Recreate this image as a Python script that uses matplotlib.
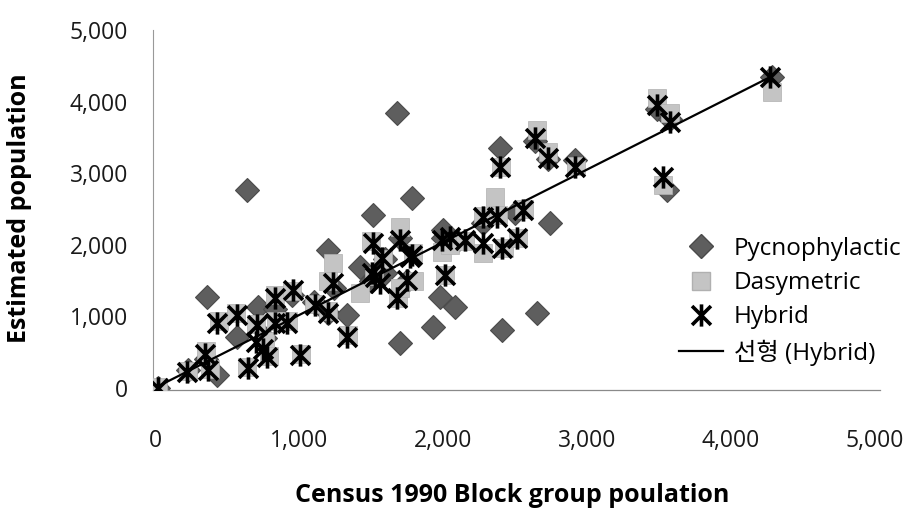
import numpy as np
import matplotlib.pyplot as plt
from matplotlib.path import Path
from matplotlib.lines import Line2D
from matplotlib.ticker import FuncFormatter

plt.rcParams['font.family'] = ['Open Sans', 'Noto Sans CJK KR', 'DejaVu Sans']

# --- data (census 1990 value, estimated value) ---
pyc_x = [20, 230, 350, 361, 431, 569, 639, 715, 760, 830, 950, 1100, 1200, 1201, 1240,
         1333, 1424, 1500, 1514, 1600, 1600, 1681, 1700, 1701, 1750, 1785, 1931, 1979,
         2000, 2000, 2083, 2100, 2280, 2396, 2410, 2500, 2639, 2653, 2729, 2743, 2917,
         3486, 3556, 3576, 4285]
pyc_y = [0, 250, 400, 1271, 182, 712, 2765, 1131, 700, 1100, 1300, 1200, 1050, 1927, 1400,
         1020, 1690, 1500, 2416, 1800, 1600, 3841, 2100, 628, 1500, 2654, 852, 1271,
         2100, 2200, 1131, 2050, 2300, 3352, 810, 2450, 3450, 1047, 3200, 2304, 3184,
         3900, 2765, 3760, 4350]

dasy_x = [20, 230, 350, 380, 440, 560, 640, 700, 760, 790, 830, 840, 920, 950, 1010,
          1100, 1200, 1200, 1236, 1340, 1424, 1500, 1520, 1580, 1690, 1700, 1701, 1790,
          1800, 1990, 2010, 2050, 2150, 2278, 2280, 2361, 2380, 2400, 2420, 2520, 2560,
          2653, 2729, 2920, 3486, 3528, 3576, 4285]
dasy_y = [10, 240, 520, 260, 930, 1050, 300, 900, 650, 450, 1300, 940, 930, 1350, 480,
          1180, 1080, 1500, 1746, 740, 1327, 2050, 1560, 1800, 1250, 1400, 2249, 1880,
          1500, 1900, 1580, 2000, 2050, 1885, 2400, 2668, 2420, 3080, 1950, 2100, 2500,
          3603, 3296, 3100, 4050, 2835, 3841, 4134]

hyb_x = [20, 222, 347, 368, 430, 569, 646, 700, 708, 750, 778, 833, 833, 917, 958, 1007,
         1111, 1201, 1236, 1333, 1507, 1514, 1528, 1563, 1576, 1681, 1701, 1750, 1771,
         1785, 1993, 2014, 2049, 2153, 2278, 2278, 2375, 2396, 2410, 2514, 2556, 2639,
         2729, 2917, 3486, 3528, 3576, 4271]
hyb_y = [0, 223, 475, 251, 908, 1020, 279, 640, 880, 550, 433, 1257, 908, 908, 1369, 461,
         1159, 1047, 1466, 712, 1606, 2025, 1550, 1466, 1816, 1257, 2067, 1508, 1830,
         1858, 2067, 1578, 2109, 2067, 2388, 2025, 2388, 3087, 1955, 2095, 2486, 3492,
         3212, 3087, 3953, 2947, 3715, 4344]

x_ticks = [0, 1000, 2000, 3000, 4000, 5000]
y_ticks = [0, 1000, 2000, 3000, 4000, 5000]

# linear trend of the hybrid series
slope, icpt = np.polyfit(hyb_x, hyb_y, 1)
trend_x = np.array([min(hyb_x), max(hyb_x)])
trend_y = slope * trend_x + icpt

# asterisk marker: vertical bar plus an X
star = Path([(0, -1), (0, 1), (-0.85, -0.85), (0.85, 0.85), (-0.85, 0.85), (0.85, -0.85)],
            [Path.MOVETO, Path.LINETO] * 3)

fig = plt.figure(figsize=(9.13, 5.24), dpi=100)
ax = fig.add_axes([153 / 913, 1 - 390 / 524, 727 / 913, 360 / 524])

ax.plot(pyc_x, pyc_y, 'D', ms=12.5, color='#5e5e5e', mec='#4a4a4a', mew=0.8, ls='none', zorder=2)
ax.plot(dasy_x, dasy_y, 's', ms=13, color='#c4c4c4', mec='#b0b0b0', mew=0.5, ls='none', zorder=3)
ax.plot(hyb_x, hyb_y, marker=star, ms=16, color='black', mew=2.6, ls='none', zorder=4)
ax.plot(trend_x, trend_y, color='black', lw=1.6, zorder=5)

ax.set_xlim(-15, 5035)
ax.set_ylim(-28, 5000)
ax.set_xticks(x_ticks)
ax.set_yticks(y_ticks)
fmt = FuncFormatter(lambda v, p: f'{int(v):,}')
ax.xaxis.set_major_formatter(fmt)
ax.yaxis.set_major_formatter(fmt)
ax.tick_params(axis='both', length=0, labelsize=16.5, colors='#1a1a1a')
ax.tick_params(axis='x', pad=28)
ax.tick_params(axis='y', pad=18)

for s in ['top', 'right']:
    ax.spines[s].set_visible(False)
ax.spines['left'].set_color('#999999')
ax.spines['left'].set_linewidth(0.8)
ax.spines['left'].set_linestyle((0, (2, 1)))
ax.spines['bottom'].set_color('#8a8a8a')
ax.spines['bottom'].set_linewidth(0.9)

ax.set_xlabel('Census 1990 Block group poulation', fontsize=18, fontweight='bold')
ax.xaxis.set_label_coords((512 - 153) / 727, (390 - 495) / 360)
ax.xaxis.label.set_va('center')
ax.set_ylabel('Estimated population', fontsize=18, fontweight='bold')
ax.yaxis.set_label_coords((20 - 153) / 727, (390 - 208) / 360)
ax.yaxis.label.set_va('center')

handles = [
    Line2D([], [], marker='D', ms=12.5, color='#5e5e5e', mec='#4a4a4a', ls='none'),
    Line2D([], [], marker='s', ms=13, color='#c4c4c4', mec='#b0b0b0', ls='none'),
    Line2D([], [], marker=star, ms=16, color='black', mew=2.6, ls='none'),
    Line2D([], [], color='black', lw=1.6),
]
labels = ['Pycnophylactic', 'Dasymetric', 'Hybrid', '선형 (Hybrid)']
fig.legend(handles, labels, loc='upper left', bbox_to_anchor=(679 / 913, 1 - 237 / 524),
           frameon=False, fontsize=17.5, handlelength=1.8, handletextpad=0.45,
           labelspacing=0.42, borderpad=0, borderaxespad=0)

fig.savefig('out.png', dpi=100, facecolor='white')
